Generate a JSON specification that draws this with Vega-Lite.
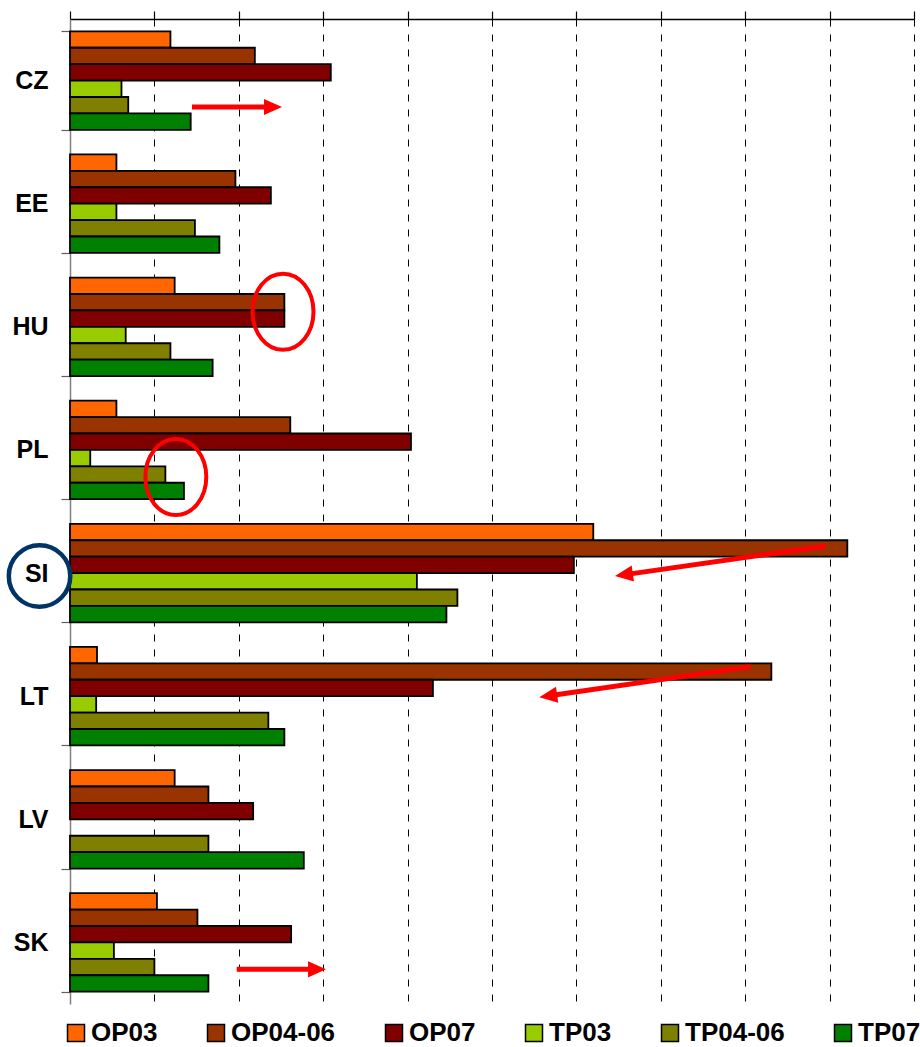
{
  "$schema": "https://vega.github.io/schema/vega-lite/v6.json",
  "width": 844,
  "height": 985,
  "autosize": "none",
  "padding": {"left": 70, "top": 19, "right": 6, "bottom": 43},
  "background": "white",
  "config": {"view": {"stroke": null}},
  "datasets": {
    "bars": [
      {"country": "CZ", "series": "OP03", "value": 1.19},
      {"country": "CZ", "series": "OP04-06", "value": 2.19},
      {"country": "CZ", "series": "OP07", "value": 3.09},
      {"country": "CZ", "series": "TP03", "value": 0.61},
      {"country": "CZ", "series": "TP04-06", "value": 0.69},
      {"country": "CZ", "series": "TP07", "value": 1.43},
      {"country": "EE", "series": "OP03", "value": 0.55},
      {"country": "EE", "series": "OP04-06", "value": 1.96},
      {"country": "EE", "series": "OP07", "value": 2.38},
      {"country": "EE", "series": "TP03", "value": 0.55},
      {"country": "EE", "series": "TP04-06", "value": 1.48},
      {"country": "EE", "series": "TP07", "value": 1.77},
      {"country": "HU", "series": "OP03", "value": 1.24},
      {"country": "HU", "series": "OP04-06", "value": 2.54},
      {"country": "HU", "series": "OP07", "value": 2.54},
      {"country": "HU", "series": "TP03", "value": 0.66},
      {"country": "HU", "series": "TP04-06", "value": 1.19},
      {"country": "HU", "series": "TP07", "value": 1.69},
      {"country": "PL", "series": "OP03", "value": 0.55},
      {"country": "PL", "series": "OP04-06", "value": 2.61},
      {"country": "PL", "series": "OP07", "value": 4.04},
      {"country": "PL", "series": "TP03", "value": 0.24},
      {"country": "PL", "series": "TP04-06", "value": 1.13},
      {"country": "PL", "series": "TP07", "value": 1.35},
      {"country": "SI", "series": "OP03", "value": 6.2},
      {"country": "SI", "series": "OP04-06", "value": 9.21},
      {"country": "SI", "series": "OP07", "value": 5.97},
      {"country": "SI", "series": "TP03", "value": 4.11},
      {"country": "SI", "series": "TP04-06", "value": 4.59},
      {"country": "SI", "series": "TP07", "value": 4.46},
      {"country": "LT", "series": "OP03", "value": 0.32},
      {"country": "LT", "series": "OP04-06", "value": 8.31},
      {"country": "LT", "series": "OP07", "value": 4.3},
      {"country": "LT", "series": "TP03", "value": 0.31},
      {"country": "LT", "series": "TP04-06", "value": 2.35},
      {"country": "LT", "series": "TP07", "value": 2.54},
      {"country": "LV", "series": "OP03", "value": 1.24},
      {"country": "LV", "series": "OP04-06", "value": 1.64},
      {"country": "LV", "series": "OP07", "value": 2.17},
      {"country": "LV", "series": "TP04-06", "value": 1.64},
      {"country": "LV", "series": "TP07", "value": 2.77},
      {"country": "SK", "series": "OP03", "value": 1.03},
      {"country": "SK", "series": "OP04-06", "value": 1.51},
      {"country": "SK", "series": "OP07", "value": 2.62},
      {"country": "SK", "series": "TP03", "value": 0.52},
      {"country": "SK", "series": "TP04-06", "value": 1.0},
      {"country": "SK", "series": "TP07", "value": 1.64}
    ],
    "arrows": [
      {"x": 1.445, "x2": 2.37, "y": 5.36, "y2": 5.36},
      {"x": 1.975, "x2": 2.891, "y": 57.89, "y2": 57.89},
      {"x": 8.957, "x2": 6.598, "y": 32.1, "y2": 33.83},
      {"x": 8.065, "x2": 5.701, "y": 39.45, "y2": 41.21}
    ],
    "headsRight": [
      {"x": 2.405, "y": 5.36},
      {"x": 2.927, "y": 57.89}
    ],
    "headsLeft": [
      {"x": 6.563, "y": 33.85},
      {"x": 5.666, "y": 41.24}
    ],
    "ellipses": [
      {"x": 2.524, "y": 17.83},
      {"x": 1.254, "y": 27.9}
    ],
    "circle": [
      {"x": -0.361, "y": 33.93}
    ]
  },
  "layer": [
    {
      "data": {"name": "bars"},
      "mark": {"type": "bar", "stroke": "#000000", "strokeWidth": 1.8},
      "encoding": {
        "y": {
          "field": "country",
          "type": "nominal",
          "sort": ["CZ", "EE", "HU", "PL", "SI", "LT", "LV", "SK"],
          "scale": {"paddingInner": 0.2, "paddingOuter": 0.1},
          "axis": {
            "title": null,
            "tickBand": "extent",
            "tickSize": 9,
            "tickColor": "#606060",
            "tickWidth": 1.2,
            "labelPadding": 13,
            "labelFont": "Liberation Sans",
            "labelFontSize": 25,
            "labelFontWeight": "bold",
            "labelColor": "#000000",
            "domainColor": "#808080",
            "domainWidth": 1.5,
            "grid": false
          }
        },
        "yOffset": {
          "field": "series",
          "type": "nominal",
          "sort": ["OP03", "OP04-06", "OP07", "TP03", "TP04-06", "TP07"],
          "scale": {"paddingInner": 0, "paddingOuter": 0}
        },
        "x": {
          "field": "value",
          "type": "quantitative",
          "scale": {"domain": [0, 10], "nice": false, "zero": true},
          "axis": {
            "orient": "top",
            "title": null,
            "values": [0, 1, 2, 3, 4, 5, 6, 7, 8, 9, 10],
            "labels": false,
            "grid": true,
            "gridDash": [7, 8],
            "gridColor": "#000000",
            "gridWidth": 1,
            "tickSize": 8,
            "tickColor": "#000000",
            "tickWidth": 1.2,
            "domainColor": "#000000",
            "domainWidth": 1.5
          }
        },
        "color": {
          "field": "series",
          "type": "nominal",
          "sort": ["OP03", "OP04-06", "OP07", "TP03", "TP04-06", "TP07"],
          "scale": {
            "domain": ["OP03", "OP04-06", "OP07", "TP03", "TP04-06", "TP07"],
            "range": ["#FF6600", "#993300", "#800000", "#99CC00", "#808000", "#008000"]
          },
          "legend": {
            "orient": "none",
            "legendX": -7,
            "legendY": 1001,
            "direction": "horizontal",
            "title": null,
            "symbolType": "square",
            "symbolSize": 289,
            "symbolStrokeColor": "#000000",
            "symbolStrokeWidth": 1.5,
            "symbolOpacity": 1,
            "labelFont": "Liberation Sans",
            "labelFontSize": 26,
            "labelFontWeight": "bold",
            "labelColor": "#000000",
            "labelOffset": 2,
            "columnPadding": 45,
            "padding": 0
          }
        }
      }
    },
    {
      "layer": [
        {
          "data": {"name": "arrows"},
          "mark": {"type": "rule", "color": "#FF0000", "strokeWidth": 5},
          "encoding": {
            "x": {"field": "x", "type": "quantitative", "scale": {"domain": [0, 10], "nice": false}, "axis": null},
            "x2": {"field": "x2"},
            "y": {"field": "y", "type": "quantitative", "scale": {"domain": [0, 60], "reverse": true, "nice": false, "zero": false}, "axis": null},
            "y2": {"field": "y2"}
          }
        },
        {
          "data": {"name": "headsRight"},
          "mark": {"type": "point", "shape": "M1,0L-1,-0.9L-1,0.9Z", "angle": 0, "size": 324, "filled": true, "color": "#FF0000", "opacity": 1},
          "encoding": {
            "x": {"field": "x", "type": "quantitative", "scale": {"domain": [0, 10], "nice": false}, "axis": null},
            "y": {"field": "y", "type": "quantitative", "scale": {"domain": [0, 60], "reverse": true, "nice": false, "zero": false}, "axis": null}
          }
        },
        {
          "data": {"name": "headsLeft"},
          "mark": {"type": "point", "shape": "M1,0L-1,-0.9L-1,0.9Z", "angle": 171.9, "size": 324, "filled": true, "color": "#FF0000", "opacity": 1},
          "encoding": {
            "x": {"field": "x", "type": "quantitative", "scale": {"domain": [0, 10], "nice": false}, "axis": null},
            "y": {"field": "y", "type": "quantitative", "scale": {"domain": [0, 60], "reverse": true, "nice": false, "zero": false}, "axis": null}
          }
        },
        {
          "data": {"name": "ellipses"},
          "mark": {"type": "point", "shape": "M-0.8,0A0.8,1,0,1,1,0.8,0A0.8,1,0,1,1,-0.8,0Z", "size": 5800, "filled": false, "stroke": "#FF0000", "strokeWidth": 4, "opacity": 1},
          "encoding": {
            "x": {"field": "x", "type": "quantitative", "scale": {"domain": [0, 10], "nice": false}, "axis": null},
            "y": {"field": "y", "type": "quantitative", "scale": {"domain": [0, 60], "reverse": true, "nice": false, "zero": false}, "axis": null}
          }
        },
        {
          "data": {"name": "circle"},
          "mark": {"type": "point", "shape": "circle", "size": 3780, "filled": false, "stroke": "#003366", "strokeWidth": 4.5, "opacity": 1},
          "encoding": {
            "x": {"field": "x", "type": "quantitative", "scale": {"domain": [0, 10], "nice": false}, "axis": null},
            "y": {"field": "y", "type": "quantitative", "scale": {"domain": [0, 60], "reverse": true, "nice": false, "zero": false}, "axis": null}
          }
        }
      ]
    }
  ],
  "resolve": {"scale": {"y": "independent"}, "axis": {"x": "independent"}}
}
